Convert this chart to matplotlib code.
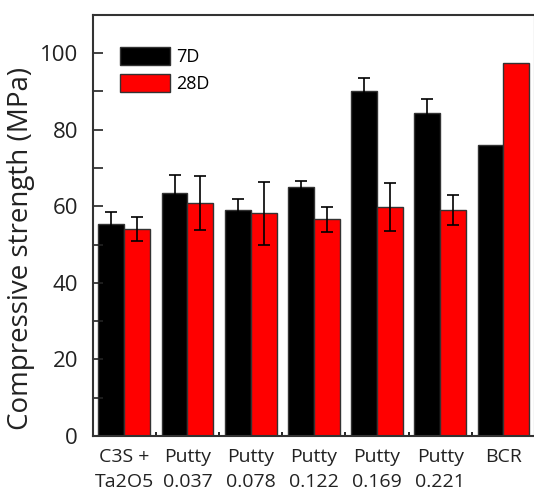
import numpy as np
import matplotlib
matplotlib.use("Agg")
import matplotlib.pyplot as plt
from matplotlib.ticker import MultipleLocator, FixedLocator

plt.rcParams["font.family"] = ["Open Sans", "DejaVu Sans"]

categories = ["C3S +\nTa2O5", "Putty\n0.037", "Putty\n0.078", "Putty\n0.122",
              "Putty\n0.169", "Putty\n0.221", "BCR"]
d7 = [55.4, 63.4, 59.0, 65.1, 90.0, 84.4, 76.1]
d7_err = [3.2, 4.7, 3.0, 1.6, 3.4, 3.7, 0.0]
d28 = [54.1, 60.8, 58.1, 56.6, 59.7, 59.1, 97.5]
d28_err = [3.2, 7.0, 8.2, 3.3, 6.3, 3.9, 0.0]

fig = plt.figure(figsize=(5.34, 4.93), dpi=100)
ax = fig.add_axes([92.7 / 534, 1 - 436 / 493, (535 - 92.7) / 534, (436 - 14.7) / 493])

x = np.arange(len(categories))
w = 0.41
err_kw = dict(ecolor="black", elinewidth=1.2, capsize=4.5, capthick=1.2)
ax.bar(x - w / 2, d7, w, color="black", edgecolor="#333333", linewidth=1,
       label="7D", yerr=[e if e > 0 else np.nan for e in d7_err], error_kw=err_kw)
ax.bar(x + w / 2, d28, w, color="#ff0000", edgecolor="#333333", linewidth=1,
       label="28D", yerr=[e if e > 0 else np.nan for e in d28_err], error_kw=err_kw)

ax.set_xlim(-0.5, len(categories) - 0.5)
ax.set_ylim(0, 110)
ax.yaxis.set_major_locator(MultipleLocator(20))
ax.yaxis.set_minor_locator(MultipleLocator(10))
ax.tick_params(axis="y", which="both", direction="in", length=7, width=1.2,
               labelsize=16, colors="#222222", pad=10.5)

ax.set_xticks(x)
ax.set_xticklabels(categories, fontsize=14, color="#222222", linespacing=1.45)
ax.tick_params(axis="x", which="major", length=0, pad=9)
ax.xaxis.set_minor_locator(FixedLocator(x[:-1] + 0.5))
ax.tick_params(axis="x", which="minor", direction="in", length=3, width=1.2)

for s in ax.spines.values():
    s.set_linewidth(1.5)
    s.set_color("#333333")

ax.set_ylabel("Compressive strength (MPa)", fontsize=20, color="#222222")
ax.yaxis.set_label_coords(-0.13, 0.445)

ax.legend(loc="upper left", frameon=False, fontsize=13, handlelength=2.8,
          handleheight=1.15, handletextpad=0.3, labelspacing=0.45,
          bbox_to_anchor=(0.045, 0.94), borderaxespad=0)

fig.savefig("out.png", dpi=100)
